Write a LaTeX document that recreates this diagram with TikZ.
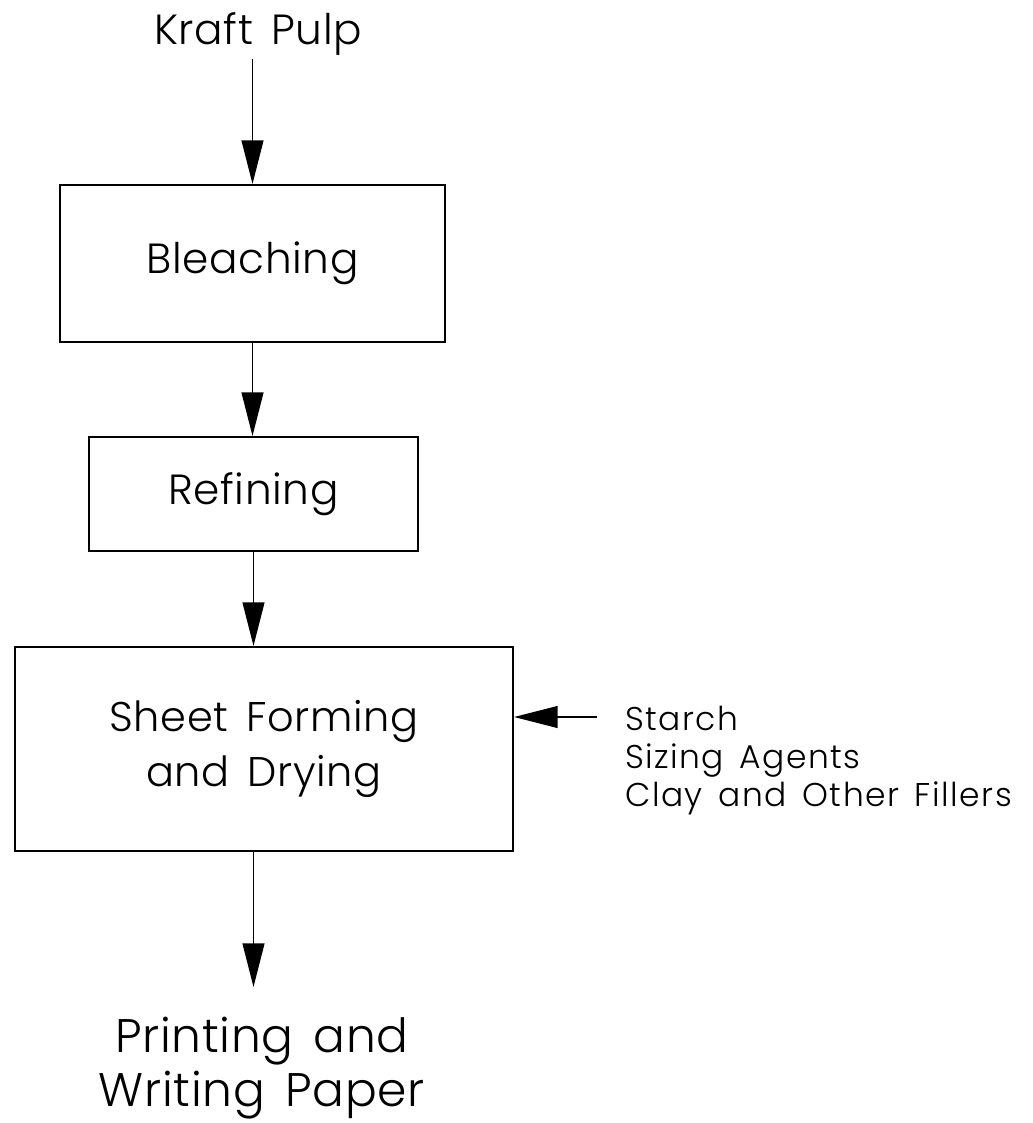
\documentclass[tikz,border=0pt]{standalone}
\usepackage{fontspec}
\setmainfont{Poppins}[UprightFont=* Light, WordSpace=1.5, LetterSpace=1.5]
\usetikzlibrary{arrows.meta}

\begin{document}
\begin{tikzpicture}[x=0.025cm,y=-0.025cm,
  procbox/.style={draw, line width=1.4pt, inner sep=0pt, align=center},
  flow/.style={line width=1.2pt, -{Triangle[length=31pt,width=15.5pt]}},
  bigtxt/.style={font=\fontsize{30}{39}\selectfont},
  addtxt/.style={font=\fontsize{23.4}{27}\selectfont\addfontfeature{LetterSpace=4.5}, inner sep=0pt, anchor=base west}]
  \useasboundingbox (0,0) rectangle (1032,1123);
  \node[bigtxt, inner sep=2pt, anchor=base] (pulp) at (258,45) {Kraft Pulp};
  \node[procbox, bigtxt, minimum width=9.625cm, minimum height=3.925cm] (bleach) at (252.5,263.5) {Bleaching};
  \node[procbox, bigtxt, minimum width=8.225cm, minimum height=2.85cm] (refine) at (253.5,494) {Refining};
  \node[procbox, font=\fontsize{29.5}{39}\selectfont, minimum width=12.45cm, minimum height=5.1cm] (sheet) at (264,749) {Sheet Forming\\and Drying};
  \node[font=\fontsize{33.5}{38.5}\selectfont, align=center, inner xsep=0pt, inner ysep=21pt, anchor=north] (paper) at (262,987) {Printing and\\Writing Paper};
  \node[addtxt] (starch) at (625,730) {Starch};
  \node[addtxt] (sizing) at (625,768) {Sizing Agents};
  \node[addtxt] (clay) at (625,806) {Clay and Other Fillers};
  \coordinate (feed) at (597,717);
  \draw[flow] (pulp.south -| bleach.north) -- (bleach.north);
  \draw[flow] (bleach.south) -- (bleach.south |- refine.north);
  \draw[flow] (refine.south) -- (refine.south |- sheet.north);
  \draw[flow] (sheet.south -| refine.south) -- (paper.north -| refine.south);
  \draw[flow] (feed) -- (feed -| sheet.east);
\end{tikzpicture}
\end{document}
